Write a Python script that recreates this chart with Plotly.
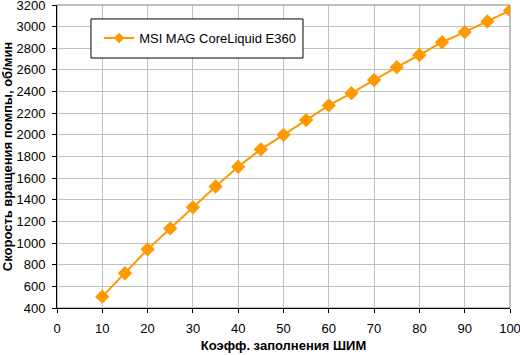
import plotly.graph_objects as go

pwm = [10, 15, 20, 25, 30, 35, 40, 45, 50, 55, 60, 65, 70, 75, 80, 85, 90, 95, 100]
rpm = [505, 721, 942, 1135, 1330, 1523, 1705, 1866, 2000, 2137, 2272, 2385, 2507, 2625, 2738, 2856, 2950, 3048, 3150]
series_name = "MSI MAG CoreLiquid E360"
x_ticks = list(range(0, 101, 10))
y_ticks = list(range(400, 3201, 200))

ORANGE = "#FF9900"
fig = go.Figure()
fig.add_trace(go.Scatter(
    x=pwm, y=rpm, mode="lines+markers", name=series_name, showlegend=False,
    line=dict(color=ORANGE, width=2),
    marker=dict(symbol="diamond", size=11, color=ORANGE),
))
# legend entry (smaller sample marker as in the reference)
fig.add_trace(go.Scatter(
    x=[None], y=[None], mode="lines+markers", name=series_name,
    line=dict(color=ORANGE, width=2),
    marker=dict(symbol="diamond", size=8, color=ORANGE),
))

font = "Liberation Sans, Arial, sans-serif"
fig.update_layout(
    width=520, height=355,
    margin=dict(l=57, r=10, t=5, b=47, autoexpand=False),
    paper_bgcolor="white", plot_bgcolor="white",
    font=dict(family=font, size=13, color="black"),
    showlegend=True,
    legend=dict(x=0.093, y=0.891, xanchor="left", yanchor="middle",
                borderwidth=0, bgcolor="rgba(0,0,0,0)",
                font=dict(size=13, family=font)),
    xaxis=dict(range=[0, 100], tickvals=x_ticks, showgrid=True, gridcolor="#C0C0C0",
               gridwidth=1, showline=True, linecolor="black", linewidth=1,
               ticks="outside", ticklen=4, tickcolor="black", ticklabelstandoff=4,
               ticklabeloverflow="allow",
               tickfont=dict(size=13), mirror=False, zeroline=False,
               title=dict(text="<b>Коэфф. заполнения ШИМ</b>", font=dict(size=13), standoff=6)),
    yaxis=dict(range=[400, 3200], tickvals=y_ticks, showgrid=True, gridcolor="#C0C0C0",
               gridwidth=1, showline=True, linecolor="black", linewidth=1,
               ticks="outside", ticklen=4, tickcolor="black", ticklabelstandoff=4,
               ticklabeloverflow="allow",
               tickfont=dict(size=13), zeroline=False,
               title=dict(text="<b>Скорость вращения помпы, об/мин</b>", font=dict(size=13), standoff=1)),
)
# gray frame top/right
fig.add_shape(type="rect", xref="paper", yref="paper", x0=0, y0=0, x1=1, y1=1,
              line=dict(color="#808080", width=1), layer="below")
# legend box
fig.add_shape(type="rect", xref="paper", yref="paper", x0=0.075, y0=0.825, x1=0.543, y1=0.954,
              line=dict(color="black", width=1), fillcolor="white", layer="above")

fig.write_html("out.html", config={"displayModeBar": False},
               post_script="document.body.style.margin='0';document.body.style.overflow='hidden';")
